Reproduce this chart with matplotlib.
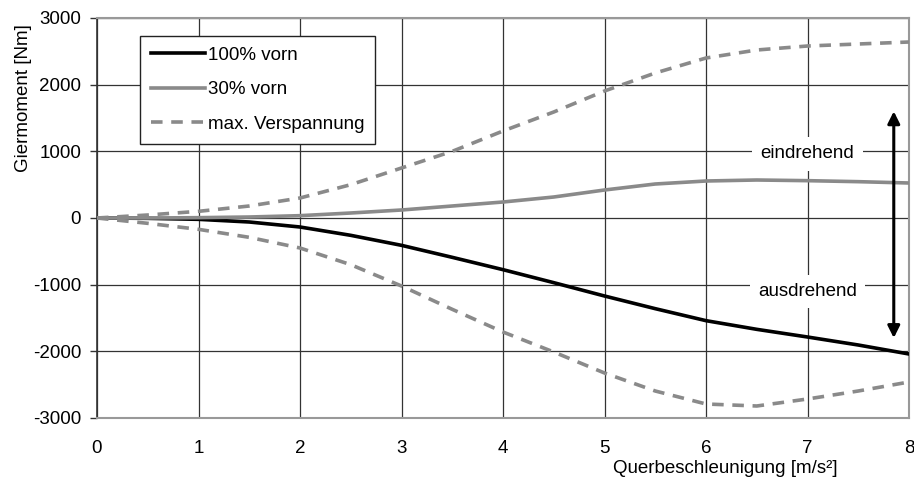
import matplotlib
matplotlib.use("Agg")
import matplotlib.pyplot as plt
import numpy as np

plt.rcParams['font.family'] = ['Liberation Sans', 'DejaVu Sans']
plt.rcParams['axes.unicode_minus'] = False

x = [0, 0.5, 1, 1.5, 2, 2.5, 3, 3.5, 4, 4.5, 5, 5.5, 6, 6.5, 7, 7.5, 8]
vorn100 = [0, -5, -20, -60, -135, -260, -410, -590, -775, -970, -1170, -1360, -1540, -1670, -1785, -1905, -2040]
vorn30 = [0, 0, 5, 15, 35, 75, 120, 180, 240, 315, 420, 510, 555, 570, 560, 545, 525]
versp_max = [0, 45, 100, 180, 300, 500, 750, 1000, 1305, 1590, 1905, 2175, 2400, 2520, 2580, 2610, 2640]
versp_min = [0, -80, -170, -290, -450, -700, -1020, -1370, -1710, -2010, -2325, -2595, -2790, -2820, -2715, -2595, -2460]

xticks = [0, 1, 2, 3, 4, 5, 6, 7, 8]
yticks = [-3000, -2000, -1000, 0, 1000, 2000, 3000]

FS = 13.5

fig = plt.figure(figsize=(9.14, 4.79), dpi=100)
ax = fig.add_axes([97/914, 1-418/479, 812/914, 400/479])

ax.set_xlim(0, 8)
ax.set_ylim(-3000, 3000)
ax.set_xticks(xticks)
ax.set_yticks(yticks)
ax.grid(True, color='#333333', linewidth=0.9)
ax.set_axisbelow(True)

gray = '#8a8a8a'
ax.plot(x, vorn100, color='black', lw=2.6, label='100% vorn', zorder=3)
ax.plot(x, vorn30, color=gray, lw=2.6, label='30% vorn', zorder=3)
ax.plot(x, versp_max, color=gray, lw=2.6, ls=(0, (3.2, 2.4)), label='max. Verspannung', zorder=3)
ax.plot(x, versp_min, color=gray, lw=2.6, ls=(0, (3.2, 2.4)), zorder=3)

for s in ['top', 'right', 'bottom']:
    ax.spines[s].set_color('#999999')
    ax.spines[s].set_linewidth(1.5)
ax.spines['left'].set_color('#333333')
ax.spines['left'].set_linewidth(1.2)

ax.tick_params(axis='y', length=5, width=1, color='#333333', labelsize=FS, pad=6.5)
ax.tick_params(axis='x', length=0, labelsize=FS, pad=16)

ax.set_ylabel('Giermoment [Nm]', fontsize=FS)
ax.yaxis.set_label_coords(-0.08, 0.80)
ax.set_xlabel('Querbeschleunigung [m/s²]', fontsize=FS)
ax.xaxis.set_label_coords((725-97)/812, -0.105)

leg = ax.legend(loc='upper left', bbox_to_anchor=(0.053, 0.955), fontsize=FS,
                frameon=True, fancybox=False, edgecolor='#222222', framealpha=1,
                handlelength=2.9, handletextpad=0.15, labelspacing=0.92,
                borderpad=0.58, borderaxespad=0)
leg.get_frame().set_linewidth(1.0)

ax.annotate('', xy=(7.85, 1600), xytext=(7.85, -1800),
            arrowprops=dict(arrowstyle='<|-|>', color='black', lw=2.2,
                            mutation_scale=18, shrinkA=0, shrinkB=0), zorder=5)
ax.text(7.0, 960, 'eindrehend', fontsize=FS, ha='center', va='center',
        bbox=dict(facecolor='white', edgecolor='none', pad=6), zorder=4)
ax.text(7.0, -1100, 'ausdrehend', fontsize=FS, ha='center', va='center',
        bbox=dict(facecolor='white', edgecolor='none', pad=6), zorder=4)

fig.savefig('out.png', dpi=100)
